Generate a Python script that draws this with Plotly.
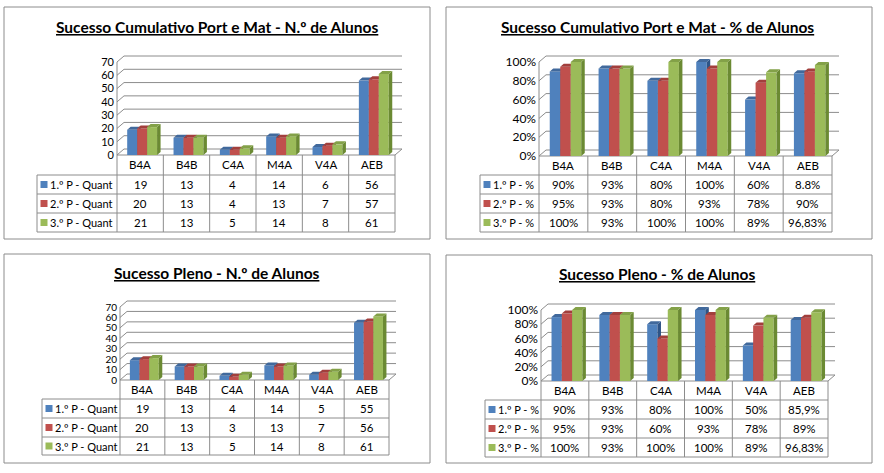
import plotly.graph_objects as go

W, H = 884, 473

# ---------------- data ----------------
categories = ["B4A", "B4B", "C4A", "M4A", "V4A", "AEB"]

titles = [
    "Sucesso Cumulativo Port e Mat - N.º de Alunos",
    "Sucesso Cumulativo Port e Mat - % de Alunos",
    "Sucesso Pleno - N.º de Alunos",
    "Sucesso Pleno - % de Alunos",
]

row_labels_quant = ["1.º P - Quant", "2.º P - Quant", "3.º P - Quant"]
row_labels_pct = ["1.º P - %", "2.º P - %", "3.º P - %"]

# Sucesso Cumulativo - N.º
cum_n_p1 = [19, 13, 4, 14, 6, 56]
cum_n_p2 = [20, 13, 4, 13, 7, 57]
cum_n_p3 = [21, 13, 5, 14, 8, 61]

# Sucesso Cumulativo - %
cum_pct_p1 = [0.90, 0.93, 0.80, 1.00, 0.60, 0.88]
cum_pct_p2 = [0.95, 0.93, 0.80, 0.93, 0.78, 0.90]
cum_pct_p3 = [1.00, 0.93, 1.00, 1.00, 0.89, 0.9683]
cum_pct_txt_p1 = ["90%", "93%", "80%", "100%", "60%", "8.8%"]
cum_pct_txt_p2 = ["95%", "93%", "80%", "93%", "78%", "90%"]
cum_pct_txt_p3 = ["100%", "93%", "100%", "100%", "89%", "96,83%"]

# Sucesso Pleno - N.º
ple_n_p1 = [19, 13, 4, 14, 5, 55]
ple_n_p2 = [20, 13, 3, 13, 7, 56]
ple_n_p3 = [21, 13, 5, 14, 8, 61]

# Sucesso Pleno - %
ple_pct_p1 = [0.90, 0.93, 0.80, 1.00, 0.50, 0.859]
ple_pct_p2 = [0.95, 0.93, 0.60, 0.93, 0.78, 0.89]
ple_pct_p3 = [1.00, 0.93, 1.00, 1.00, 0.89, 0.9683]
ple_pct_txt_p1 = ["90%", "93%", "80%", "100%", "50%", "85,9%"]
ple_pct_txt_p2 = ["95%", "93%", "60%", "93%", "78%", "89%"]
ple_pct_txt_p3 = ["100%", "93%", "100%", "100%", "89%", "96,83%"]

count_ticks = [0, 10, 20, 30, 40, 50, 60, 70]
count_ticktext = ["0", "10", "20", "30", "40", "50", "60", "70"]
pct_ticks = [0, 0.2, 0.4, 0.6, 0.8, 1.0]
pct_ticktext = ["0%", "20%", "40%", "60%", "80%", "100%"]

# ---------------- styles ----------------
front_colors = ["#4F81BD", "#C0504D", "#9BBB59"]
side_colors = ["#2E5487", "#8A3330", "#6B8A33"]
top_colors = ["#41699C", "#A23F3C", "#83A148"]
LINE = "#8C8C8C"
FONT = "Lato"

panels = [
    dict(title=titles[0], values=[cum_n_p1, cum_n_p2, cum_n_p3],
         texts=[[str(v) for v in s] for s in (cum_n_p1, cum_n_p2, cum_n_p3)],
         rows=row_labels_quant, ticks=count_ticks, ticktext=count_ticktext),
    dict(title=titles[1], values=[cum_pct_p1, cum_pct_p2, cum_pct_p3],
         texts=[cum_pct_txt_p1, cum_pct_txt_p2, cum_pct_txt_p3],
         rows=row_labels_pct, ticks=pct_ticks, ticktext=pct_ticktext),
    dict(title=titles[2], values=[ple_n_p1, ple_n_p2, ple_n_p3],
         texts=[[str(v) for v in s] for s in (ple_n_p1, ple_n_p2, ple_n_p3)],
         rows=row_labels_quant, ticks=count_ticks, ticktext=count_ticktext),
    dict(title=titles[3], values=[ple_pct_p1, ple_pct_p2, ple_pct_p3],
         texts=[ple_pct_txt_p1, ple_pct_txt_p2, ple_pct_txt_p3],
         rows=row_labels_pct, ticks=pct_ticks, ticktext=pct_ticktext),
]

# pixel layout of each panel
geoms = [
    dict(L=4, T=7, R=430, B=239, ax=117, tr=395, floor=155, top=62,
         lab=37, rows=[175, 194, 213, 232], tcx=217, ty=27, tfs=11),
    dict(L=446, T=7, R=872, B=239, ax=539, tr=832, floor=156, top=62,
         lab=480, rows=[175, 194, 213, 232], tcx=657, ty=27, tfs=12),
    dict(L=4, T=254, R=430, B=463, ax=120, tr=389, floor=380, top=307,
         lab=42, rows=[399, 418, 437, 455], tcx=217, ty=273, tfs=10),
    dict(L=446, T=255, R=872, B=463, ax=541, tr=828, floor=381, top=310,
         lab=485, rows=[400, 419, 438, 457], tcx=657, ty=274, tfs=12),
]

WALL_DX, WALL_DY = 7, 6     # px depth of back wall
BAR_DX, BAR_DY = 3.5, 3     # px depth of bars
BAR_W = 0.215               # bar width (category units)
BAR_START = -0.28           # offset of first bar from category centre

fig = go.Figure()
layout = dict(width=W, height=H, margin=dict(l=0, r=0, t=0, b=0),
              paper_bgcolor="white", plot_bgcolor="rgba(0,0,0,0)",
              showlegend=False, barmode="overlay", annotations=[], shapes=[])


def axname(kind, n):
    return kind if n == 1 else f"{kind}{n}"


def lkey(kind, n):
    return f"{kind}axis" if n == 1 else f"{kind}axis{n}"


ncat = len(categories)
for p, (pan, g) in enumerate(zip(panels, geoms)):
    tickmax = pan["ticks"][-1]
    colw = (g["tr"] - g["ax"]) / ncat
    ppu = (g["floor"] - g["top"]) / tickmax

    def xu(px, g=g, colw=colw):
        return (px - g["ax"]) / colw - 0.5

    def yu(py, g=g, ppu=ppu):
        return (g["floor"] - py) / ppu

    xr = [xu(g["L"]), xu(g["R"])]
    yr = [yu(g["B"]), yu(g["T"])]
    xd = [g["L"] / W, g["R"] / W]
    yd = [1 - g["B"] / H, 1 - g["T"] / H]

    b = p * 4 + 1
    xa, ya = axname("x", b), axname("y", b)
    layout[lkey("x", b)] = dict(domain=xd, range=xr, visible=False, anchor=ya,
                                fixedrange=True)
    layout[lkey("y", b)] = dict(domain=yd, range=yr, anchor="free",
                                position=g["ax"] / W, tickvals=pan["ticks"],
                                ticktext=pan["ticktext"], showgrid=False,
                                zeroline=False, showline=False, ticks="",
                                ticklabelstandoff=3,
                                tickfont=dict(family=FONT, size=g["tfs"], color="black"),
                                fixedrange=True)

    wdx, wdy = WALL_DX / colw, WALL_DY / ppu
    x0, x1 = -0.5, ncat - 0.5

    # back wall gridlines + left wall diagonals
    gx, gy = [], []
    for tv in pan["ticks"]:
        gx += [x0, x0 + wdx, x1 + wdx, None]
        gy += [tv, tv + wdy, tv + wdy, None]
    # front axis line and floor right edge
    gx += [x0, x0, None, x1, x1 + wdx, None]
    gy += [0, tickmax, None, 0, wdy, None]
    fig.add_trace(go.Scatter(x=gx, y=gy, mode="lines", xaxis=xa, yaxis=ya,
                             line=dict(color=LINE, width=1), hoverinfo="skip"))

    # table grid
    y_hb = yu(g["rows"][0])
    y_tb = yu(g["rows"][-1])
    x_lab = xu(g["lab"])
    tx, ty = [], []
    for j in range(ncat + 1):
        tx += [x0 + j, x0 + j, None]
        ty += [0, y_tb, None]
    tx += [x_lab, x_lab, None, x0, x1, None]
    ty += [y_hb, y_tb, None, 0, 0, None]
    for rb in g["rows"]:
        tx += [x_lab, x1, None]
        ty += [yu(rb), yu(rb), None]
    fig.add_trace(go.Scatter(x=tx, y=ty, mode="lines", xaxis=xa, yaxis=ya,
                             line=dict(color=LINE, width=1), hoverinfo="skip"))

    # legend keys in table
    row_edges = [g["floor"]] + g["rows"]
    row_centres = [yu((row_edges[r] + row_edges[r + 1]) / 2) for r in range(4)]
    fig.add_trace(go.Scatter(x=[xu(g["lab"] + 7)] * 3, y=row_centres[1:],
                             mode="markers", xaxis=xa, yaxis=ya,
                             marker=dict(symbol="square", size=7,
                                         color=front_colors, line=dict(width=0)),
                             hoverinfo="skip"))

    # border
    layout["shapes"].append(dict(type="rect", xref=f"{xa} domain", yref=f"{ya} domain",
                                 x0=0, x1=1, y0=0, y1=1,
                                 line=dict(color=LINE, width=1)))

    # title
    layout["annotations"].append(dict(
        x=xu(g["tcx"]), y=yu(g["ty"]), xref=xa, yref=ya, showarrow=False,
        text=f"<b><u>{pan['title']}</u></b>",
        font=dict(family=FONT, size=15.5, color="black")))

    # table texts
    tf = dict(family=FONT, size=11.5, color="black")
    lf = dict(family=FONT, size=11, color="black")
    for i, c in enumerate(categories):
        layout["annotations"].append(dict(x=i, y=row_centres[0], xref=xa, yref=ya,
                                          text=c, showarrow=False, font=tf))
    for k in range(3):
        for i in range(ncat):
            layout["annotations"].append(dict(x=i, y=row_centres[k + 1], xref=xa,
                                              yref=ya, text=pan["texts"][k][i],
                                              showarrow=False, font=tf))
        layout["annotations"].append(dict(x=xu(g["lab"] + 11), y=row_centres[k + 1],
                                          xref=xa, yref=ya, xanchor="left",
                                          text=pan["rows"][k], showarrow=False,
                                          font=lf))

    # series in overlaid axes (so each series is drawn above the previous one)
    sdx, sdy = BAR_DX / colw, BAR_DY / ppu
    for k in range(3):
        n = b + 1 + k
        xo, yo = axname("x", n), axname("y", n)
        layout[lkey("x", n)] = dict(domain=xd, range=xr, visible=False, anchor=yo,
                                    overlaying=xa, fixedrange=True)
        layout[lkey("y", n)] = dict(domain=yd, range=yr, visible=False, anchor=xo,
                                    overlaying=ya, fixedrange=True)
        vals = pan["values"][k]
        off = BAR_START + k * BAR_W
        fig.add_trace(go.Bar(x=list(range(ncat)), y=vals, width=BAR_W, offset=off,
                             xaxis=xo, yaxis=yo, opacity=1,
                             marker=dict(color=front_colors[k], line=dict(width=0)),
                             hoverinfo="skip"))
        sx, sy, qx, qy = [], [], [], []
        for i, v in enumerate(vals):
            xl = i + off
            xrr = xl + BAR_W
            sx += [xrr, xrr + sdx, xrr + sdx, xrr, xrr, None]
            sy += [0, sdy, v + sdy, v, 0, None]
            qx += [xl, xrr, xrr + sdx, xl + sdx, xl, None]
            qy += [v, v, v + sdy, v + sdy, v, None]
        fig.add_trace(go.Scatter(x=sx, y=sy, mode="lines", fill="toself",
                                 fillcolor=side_colors[k], line=dict(width=0),
                                 xaxis=xo, yaxis=yo, hoverinfo="skip"))
        fig.add_trace(go.Scatter(x=qx, y=qy, mode="lines", fill="toself",
                                 fillcolor=top_colors[k], line=dict(width=0),
                                 xaxis=xo, yaxis=yo, hoverinfo="skip"))

fig.update_layout(**layout)
fig.write_html("out.html")
